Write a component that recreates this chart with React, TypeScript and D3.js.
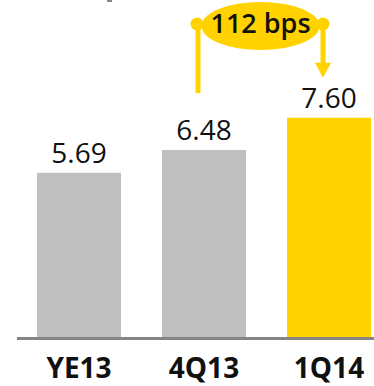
import React from "react";
import * as d3 from "d3";

const categories = ["YE13", "4Q13", "1Q14"];
const values = [5.69, 6.48, 7.6];
const valueLabels = ["5.69", "6.48", "7.60"];
const colors = ["#bfbfbf", "#bfbfbf", "#ffd200"];
const annotationText = "112 bps";

export default function App() {
  const W = 374;
  const H = 386;
  const baseY = 337;
  const x = d3.scaleBand<string>().domain(categories).range([37, 371]).paddingInner(0.328).paddingOuter(0);
  const y = d3.scaleLinear().domain([0, 8]).range([baseY, baseY - 8 * 28.85]);
  const bw = x.bandwidth();
  const cx = (c: string) => (x(c) as number) + bw / 2;

  const fromX = cx(categories[1]) - 6;
  const toX = cx(categories[2]) - 6;
  const ellCx = (fromX + toX) / 2;
  const ellCy = 26;
  const yellow = "#ffd200";
  const arrowTip = y(values[2]) - 40;

  return (
    <div style={{ position: "absolute", left: 0, top: 0 }}>
      <svg width={W} height={H} style={{ display: "block" }}>
        <rect x={107} y={0} width={5} height={2} fill="#888" />
        {categories.map((c, i) => (
          <rect key={c} x={x(c)} y={y(values[i])} width={bw} height={baseY - y(values[i])} fill={colors[i]} />
        ))}
        <line x1={17} x2={374} y1={338.5} y2={338.5} stroke="#858585" strokeWidth={3} />
        {categories.map((c, i) => (
          <text
            key={"v" + c}
            x={cx(c)}
            y={y(values[i]) - 10}
            textAnchor="middle"
            fontFamily="'Open Sans', sans-serif"
            fontWeight={500}
            fontSize={28}
            fill="#111"
          >
            {valueLabels[i]}
          </text>
        ))}
        {categories.map((c) => (
          <text
            key={"c" + c}
            x={cx(c)}
            y={378}
            textAnchor="middle"
            fontFamily="'Open Sans', sans-serif"
            fontWeight={700}
            fontSize={28}
            fill="#111"
          >
            {c}
          </text>
        ))}
        {/* annotation */}
        <line x1={fromX} x2={fromX} y1={ellCy} y2={93} stroke={yellow} strokeWidth={5} />
        <line x1={toX} x2={toX} y1={ellCy} y2={arrowTip - 14} stroke={yellow} strokeWidth={5} />
        <path d={`M${toX - 8},${arrowTip - 15} L${toX + 8},${arrowTip - 15} L${toX},${arrowTip} Z`} fill={yellow} />
        <circle cx={fromX - 1} cy={ellCy - 2} r={6.5} fill={yellow} />
        <circle cx={toX} cy={ellCy - 2} r={6.5} fill={yellow} />
        <ellipse cx={ellCx} cy={ellCy} rx={59} ry={24} fill={yellow} />
        <text
          x={ellCx}
          y={33}
          textAnchor="middle"
          fontFamily="'Open Sans', sans-serif"
          fontWeight={600}
          fontSize={27}
          fill="#111"
        >
          {annotationText}
        </text>
      </svg>
    </div>
  );
}
